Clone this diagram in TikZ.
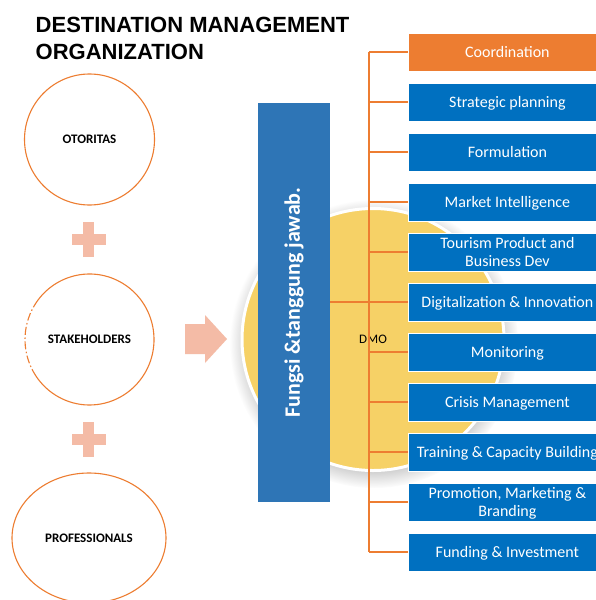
\documentclass[tikz,border=0pt]{standalone}
\usepackage{fontspec}
\setmainfont{Carlito}
\newfontfamily\titlefont{Liberation Sans}
\usetikzlibrary{shapes.geometric,shadows}

\definecolor{boxblue}{HTML}{0070C0}
\definecolor{barblue}{HTML}{2E75B6}
\definecolor{accent}{HTML}{ED7D31}
\definecolor{blush}{HTML}{F4BBA6}
\definecolor{dmoyel}{HTML}{F6D166}
\definecolor{dmomid}{HTML}{F2C955}
\definecolor{dmorim}{HTML}{E3AE3C}

% soft-edged yellow disc for the DMO core
\pgfdeclareradialshading{dmoball}{\pgfpoint{0bp}{0bp}}{%
  color(0bp)=(dmoyel); color(40bp)=(dmoyel); color(47bp)=(dmomid); color(50bp)=(dmorim)}

\tikzset{
  partner/.style={ellipse, draw=accent, line width=1.1pt, inner sep=0pt,
    font=\bfseries\fontsize{13}{15}\selectfont, text height=8.4pt, text depth=0pt},
  ring/.style={draw=accent, line width=1.1pt},
  plusbar/.style={fill=blush},
  tie/.style={draw=accent, line width=1.5pt},
  taskbox/.style={rectangle, fill=boxblue, draw=white, line width=0.8pt,
    minimum width=198pt, minimum height=38pt, inner sep=0pt, anchor=west,
    text=white, font=\fontsize{16}{18}\selectfont, text height=11pt, text depth=0pt},
  twoline/.style={align=center, text height=29pt, text depth=0pt},
}

\begin{document}
\begin{tikzpicture}[x=1pt,y=-1pt]
\useasboundingbox (0,0) rectangle (595,600);
\fill[white] (0,0) rectangle (595,600);

% heading
\node[anchor=base west, inner sep=0pt, font=\titlefont\bfseries\fontsize{22}{27}\selectfont]
  (title) at (35.5,32) {DESTINATION MANAGEMENT};
\node[anchor=base west, inner sep=0pt, font=\titlefont\bfseries\fontsize{22}{27}\selectfont]
  (title2) at (35.5,59) {ORGANIZATION};

% the three partner groups
\node[partner, minimum width=130pt, minimum height=131pt] (otoritas) at (89.5,139.5) {OTORITAS};
\node[partner, draw=none, minimum width=129pt, minimum height=131pt] (stake) at (89.5,339.5) {STAKEHOLDERS};
\node[partner, minimum width=154pt, minimum height=130pt] (prof) at (89,538) {PROFESSIONALS};

% stakeholders ring: solid, with a broken stretch on its left side
\draw[ring] (stake.center) ++(211:64.5 and 65.5)
  arc[start angle=211, end angle=506, x radius=64.5, y radius=65.5];
\draw[ring, dash pattern=on 8pt off 2.5pt on 1.5pt off 2.5pt]
  (stake.center) ++(146:64.5 and 65.5)
  arc[start angle=146, end angle=211, x radius=64.5, y radius=65.5];

% plus signs
\fill[plusbar] (83,222) rectangle (94,257);
\fill[plusbar] (72,234) rectangle (106,245);
\fill[plusbar] (83,422) rectangle (94,457);
\fill[plusbar] (72,434) rectangle (106,445);

% block arrow towards the DMO
\fill[blush] (185,324) -- (205,324) -- (205,315) -- (227,339) -- (205,363)
  -- (205,354) -- (185,354) -- cycle;

% DMO core
\node[circle, minimum size=262pt, inner sep=0pt, draw=white, line width=3pt,
  shading=dmoball,
  circular drop shadow={shadow xshift=1pt, shadow yshift=-4pt, opacity=0.45},
  font=\fontsize{13}{15}\selectfont, text height=8.4pt, text depth=0pt]
  (dmo) at (373,339.5) {DMO};

% vertical functions bar
\node[rectangle, rotate=90, fill=barblue, minimum width=399pt, minimum height=72pt,
  inner sep=0pt, text=white, font=\bfseries\fontsize{22}{26}\selectfont]
  (bar) at (294,302.5) {Fungsi \&tanggung jawab.};

% function boxes
\node[taskbox, fill=accent] (b1) at (408,52) {Coordination};
\node[taskbox] (b2) at (408,102) {Strategic planning};
\node[taskbox] (b3) at (408,152) {Formulation};
\node[taskbox] (b4) at (408,202) {Market Intelligence};
\node[taskbox, twoline] (b5) at (408,252) {Tourism Product and\\Business Dev};
\node[taskbox] (b6) at (408,302) {Digitalization \& Innovation};
\node[taskbox] (b7) at (408,352) {Monitoring};
\node[taskbox] (b8) at (408,402) {Crisis Management};
\node[taskbox] (b9) at (408,452) {Training \& Capacity Building};
\node[taskbox, twoline] (b10) at (408,502) {Promotion, Marketing \&\\Branding};
\node[taskbox] (b11) at (408,552) {Funding \& Investment};

% connectors
\coordinate (spine) at (369,52);
\draw[tie] (b1.west -| spine) -- (b11.west -| spine);
\foreach \k in {1,2,3,4,5,7,8,9,10,11}
  \draw[tie] (b\k.west) -- (b\k.west -| spine);
\draw[tie] (b6.west) -- (b6.west -| bar.south);
\end{tikzpicture}
\end{document}
